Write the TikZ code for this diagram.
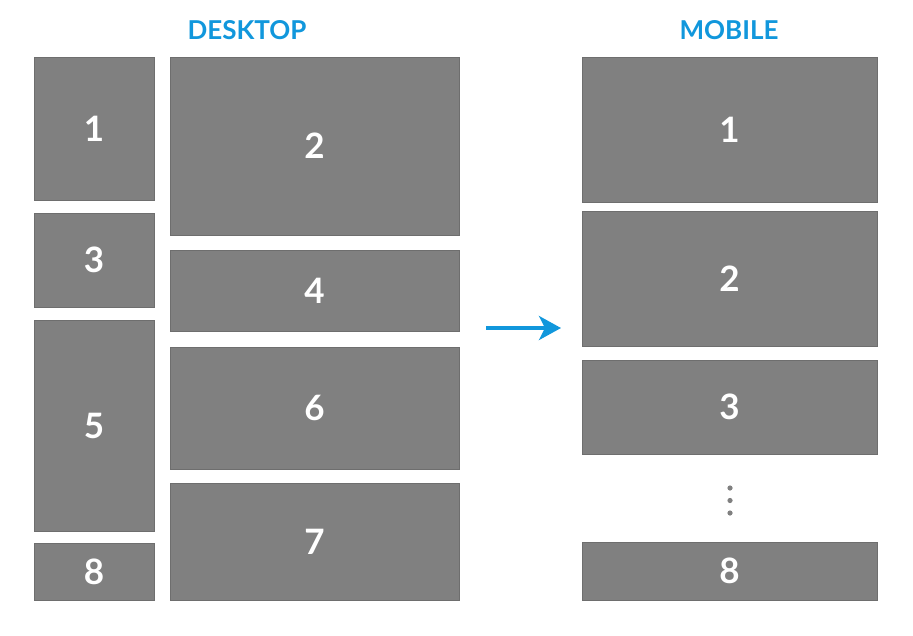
\documentclass[tikz,border=0pt]{standalone}
\usepackage{fontspec}
\setmainfont{Lato}
\usetikzlibrary{arrows.meta}
\definecolor{boxgray}{HTML}{808080}
\definecolor{boxedge}{HTML}{6E6E6E}
\definecolor{titleblue}{HTML}{1197DC}
\tikzset{
  blk/.style={fill=boxgray, draw=boxedge, line width=0.8pt},
  num/.style={text=white, font=\fontsize{35}{35}\selectfont\bfseries},
  ttl/.style={text=titleblue, font=\fontsize{26}{26}\selectfont\bfseries},
  dotc/.style={fill=boxgray, draw=none},
  arr/.style={draw=titleblue, line width=3.5pt, -{Stealth[length=22pt,width=24pt,inset=6pt]}}
}
\begin{document}
\begin{tikzpicture}[x=1pt,y=-1pt]
\useasboundingbox (0,0) rectangle (913,635);
% desktop left column
\draw[blk] (34,57) rectangle (154,200) node[num,midway] (d1) {1};
\draw[blk] (34,213) rectangle (154,307) node[num,midway] (d3) {3};
\draw[blk] (34,320) rectangle (154,531) node[num,midway] (d5) {5};
\draw[blk] (34,543) rectangle (154,600) node[num,midway] (d8) {8};
% desktop right column
\draw[blk] (170,57) rectangle (459,235) node[num,midway] (d2) {2};
\draw[blk] (170,250) rectangle (459,331) node[num,midway] (d4) {4};
\draw[blk] (170,347) rectangle (459,469) node[num,midway] (d6) {6};
\draw[blk] (170,483) rectangle (459,600) node[num,midway] (d7) {7};
% mobile
\draw[blk] (582,57) rectangle (877,202) node[num,midway] (m1) {1};
\draw[blk] (582,211) rectangle (877,346) node[num,midway] (m2) {2};
\draw[blk] (582,360) rectangle (877,454) node[num,midway] (m3) {3};
\draw[blk] (582,542) rectangle (877,600) node[num,midway] (m8) {8};
% dots
\fill[dotc] (730,488) circle (2.6);
\fill[dotc] (730,500.5) circle (2.6);
\fill[dotc] (730,513) circle (2.6);
% titles
\node[ttl] (tdesk) at (247,30) {DESKTOP};
\node[ttl] (tmob) at (729,30) {MOBILE};
% arrow
\coordinate (a1) at (486,328);
\coordinate (a2) at (561,328);
\draw[arr] (a1) -- (a2);
\end{tikzpicture}
\end{document}
